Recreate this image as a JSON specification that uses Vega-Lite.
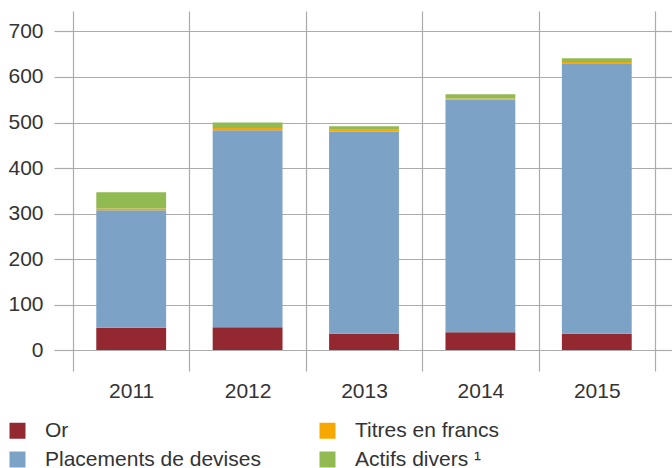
{
  "$schema": "https://vega.github.io/schema/vega-lite/v6.json",
  "width": 582,
  "height": 360,
  "autosize": {"type": "none"},
  "padding": {"left": 73, "top": 11, "right": 17, "bottom": 97},
  "background": "white",
  "config": {
    "view": {"stroke": null},
    "font": "Liberation Sans",
    "axis": {"labelFont": "Liberation Sans", "labelColor": "#333333", "labelFontSize": 21, "gridColor": "#ababab", "gridWidth": 1.2, "gridOpacity": 1}
  },
  "data": {
    "values": [
      {"annee": "2011", "serie": "Or", "rang": 1, "valeur": 49},
      {"annee": "2011", "serie": "Placements de devises", "rang": 2, "valeur": 258},
      {"annee": "2011", "serie": "Titres en francs", "rang": 3, "valeur": 4},
      {"annee": "2011", "serie": "Actifs divers ¹", "rang": 4, "valeur": 36},
      {"annee": "2012", "serie": "Or", "rang": 1, "valeur": 50},
      {"annee": "2012", "serie": "Placements de devises", "rang": 2, "valeur": 433},
      {"annee": "2012", "serie": "Titres en francs", "rang": 3, "valeur": 5},
      {"annee": "2012", "serie": "Actifs divers ¹", "rang": 4, "valeur": 12},
      {"annee": "2013", "serie": "Or", "rang": 1, "valeur": 36},
      {"annee": "2013", "serie": "Placements de devises", "rang": 2, "valeur": 444},
      {"annee": "2013", "serie": "Titres en francs", "rang": 3, "valeur": 4},
      {"annee": "2013", "serie": "Actifs divers ¹", "rang": 4, "valeur": 8},
      {"annee": "2014", "serie": "Or", "rang": 1, "valeur": 39},
      {"annee": "2014", "serie": "Placements de devises", "rang": 2, "valeur": 511},
      {"annee": "2014", "serie": "Titres en francs", "rang": 3, "valeur": 3},
      {"annee": "2014", "serie": "Actifs divers ¹", "rang": 4, "valeur": 9},
      {"annee": "2015", "serie": "Or", "rang": 1, "valeur": 36},
      {"annee": "2015", "serie": "Placements de devises", "rang": 2, "valeur": 594},
      {"annee": "2015", "serie": "Titres en francs", "rang": 3, "valeur": 3},
      {"annee": "2015", "serie": "Actifs divers ¹", "rang": 4, "valeur": 8}
    ]
  },
  "layer": [
    {
      "mark": {"type": "bar", "width": {"band": 0.6}},
      "encoding": {
        "x": {
          "field": "annee", "type": "nominal",
          "scale": {"paddingInner": 0, "paddingOuter": 0},
          "axis": {"title": null, "labelAngle": 0, "domain": false, "ticks": false, "grid": true, "tickBand": "extent", "labelPadding": 9}
        },
        "y": {
          "aggregate": "sum", "field": "valeur", "type": "quantitative", "stack": "zero",
          "scale": {"domain": [-46, 745], "nice": false, "zero": false},
          "axis": {"title": null, "values": [0, 100, 200, 300, 400, 500, 600, 700], "domain": false, "grid": true, "tickSize": 19, "tickColor": "#ababab", "tickWidth": 1.2, "labelPadding": 11}
        },
        "color": {
          "field": "serie", "type": "nominal",
          "scale": {
            "domain": ["Or", "Placements de devises", "Titres en francs", "Actifs divers ¹"],
            "range": ["#932830", "#7CA2C6", "#F6A800", "#92BA52"]
          },
          "legend": {
            "title": null, "orient": "none", "legendX": -66, "legendY": 409,
            "columns": 2, "columnPadding": 56, "rowPadding": 7,
            "symbolType": "square", "symbolSize": 256, "symbolStrokeWidth": 0, "symbolOpacity": 1,
            "labelFontSize": 21, "labelFont": "Liberation Sans", "labelColor": "#333333", "labelOffset": 17, "labelLimit": 400
          }
        },
        "order": {"field": "rang", "type": "quantitative"}
      }
    },
    {
      "mark": {"type": "rule", "opacity": 0},
      "encoding": {
        "y": {
          "field": "valeur", "type": "quantitative", "aggregate": "min",
          "axis": {"orient": "right", "title": null, "values": [0, 100, 200, 300, 400, 500, 600, 700], "domain": false, "grid": false, "labels": false, "tickSize": 17, "tickColor": "#ababab", "tickWidth": 1.2}
        }
      }
    }
  ],
  "resolve": {"axis": {"y": "independent"}}
}
